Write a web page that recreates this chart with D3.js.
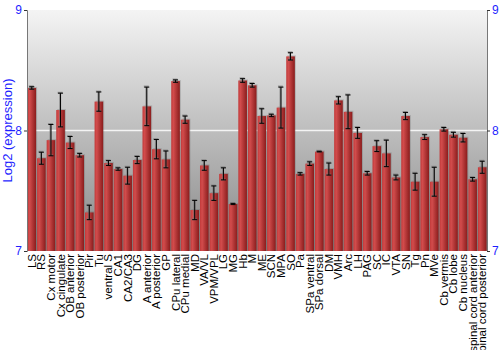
<!DOCTYPE html>
<html>
<head>
<meta charset="utf-8">
<script src="https://cdn.jsdelivr.net/npm/d3@7"></script>
<style>
  body { margin: 0; background: #fff; }
  svg { display: block; font-family: "Liberation Sans", Arial, sans-serif; }
</style>
</head>
<body>
<svg id="chart" width="500" height="350"></svg>
<script>
const regions = ["LS", "RS", "Cx motor", "Cx cingulate", "OB anterior", "OB posterior", "Pir", "Tu",
  "ventral S", "CA1", "CA2/CA3", "DG", "A anterior", "A posterior", "GP", "CPu lateral", "CPu medial",
  "MD", "VA/VL", "VPM/VPL", "LG", "MG", "Hb", "M", "ME", "SCN", "MPA", "SO", "Pa", "SPa ventral",
  "SPa dorsal", "DM", "VMH", "Arc", "LH", "PAG", "SC", "IC", "VTA", "SN", "Tg", "Pn", "MVe",
  "Cb vermis", "Cb lobe", "Cb nucleus", "spinal cord anterior", "spinal cord posterior"];

const expression = [8.353, 7.77, 7.92, 8.17, 7.90, 7.795, 7.32, 8.24,
  7.73, 7.68, 7.625, 7.755, 8.20, 7.845, 7.76, 8.41, 8.09,
  7.34, 7.71, 7.48, 7.64, 7.39, 8.415, 8.375, 8.12, 8.125, 8.19, 8.615, 7.64, 7.725,
  7.825, 7.68, 8.25, 8.155, 7.98, 7.645, 7.87, 7.81, 7.61, 8.12, 7.575, 7.945, 7.575,
  8.01, 7.965, 7.94, 7.595, 7.695];

const stdErr = [0.01, 0.05, 0.13, 0.14, 0.05, 0.015, 0.06, 0.08,
  0.02, 0.01, 0.07, 0.03, 0.16, 0.08, 0.07, 0.01, 0.03,
  0.08, 0.04, 0.06, 0.05, 0.005, 0.015, 0.015, 0.06, 0.01, 0.17, 0.03, 0.01, 0.015,
  0.003, 0.05, 0.03, 0.14, 0.045, 0.015, 0.045, 0.11, 0.02, 0.03, 0.07, 0.02, 0.12,
  0.015, 0.02, 0.035, 0.015, 0.05];

const yTicks = [7, 8, 9];

const data = regions.map((r, i) => ({ region: r, value: expression[i], err: stdErr[i] }));

const margin = { top: 10, right: 13, bottom: 99, left: 27 };
const width = 500, height = 350;
const innerWidth = width - margin.left - margin.right;
const innerHeight = height - margin.top - margin.bottom;

const svg = d3.select("#chart");
const defs = svg.append("defs");

const bg = defs.append("linearGradient").attr("id", "bg").attr("x1", 0).attr("y1", 0).attr("x2", 0).attr("y2", 1);
bg.append("stop").attr("offset", "0%").attr("stop-color", "#f4f4f4");
bg.append("stop").attr("offset", "100%").attr("stop-color", "#878787");

const barGrad = defs.append("linearGradient").attr("id", "bar").attr("x1", 0).attr("y1", 0).attr("x2", 1).attr("y2", 0);
barGrad.append("stop").attr("offset", "0%").attr("stop-color", "#c23a3a");
barGrad.append("stop").attr("offset", "25%").attr("stop-color", "#d24c4c");
barGrad.append("stop").attr("offset", "100%").attr("stop-color", "#8a1c1c");

const chart = svg.append("g").attr("transform", `translate(${margin.left},${margin.top})`);

const x = d3.scaleBand().domain(regions).range([0, innerWidth]).paddingInner(0.1).paddingOuter(0.05);
const y = d3.scaleLinear().domain([7, 9]).range([innerHeight, 0]);

chart.append("rect")
  .attr("width", innerWidth)
  .attr("height", innerHeight)
  .attr("fill", "url(#bg)");

// grid line at 8
chart.append("line")
  .attr("x1", 0).attr("x2", innerWidth)
  .attr("y1", y(8)).attr("y2", y(8))
  .attr("stroke", "#f4f4f4").attr("stroke-width", 1.5);

// bar shadows
chart.selectAll(".shadow").data(data).enter().append("rect")
  .attr("x", d => x(d.region) + 1)
  .attr("y", d => y(d.value) - 1)
  .attr("width", x.bandwidth())
  .attr("height", d => innerHeight - y(d.value) + 1)
  .attr("fill", "#555").attr("opacity", 0.25);

chart.selectAll(".bar").data(data).enter().append("rect")
  .attr("class", "bar")
  .attr("x", d => x(d.region))
  .attr("y", d => y(d.value))
  .attr("width", x.bandwidth())
  .attr("height", d => innerHeight - y(d.value))
  .attr("fill", "url(#bar)");

// error bars: grey shadow then black
const cap = 2.5;
const err = chart.selectAll(".err").data(data).enter().append("g")
  .attr("transform", d => `translate(${x(d.region) + x.bandwidth() / 2},0)`);
err.append("path")
  .attr("d", d => {
    const a = y(d.value + d.err), b = y(d.value - d.err);
    return `M${-cap - 0.5},${a - 0.5}H${cap - 0.5}M-0.5,${a - 0.5}V${b - 0.5}M${-cap - 0.5},${b - 0.5}H${cap - 0.5}`;
  })
  .attr("stroke", "#777").attr("stroke-width", 2).attr("opacity", 0.6).attr("fill", "none");
err.append("path")
  .attr("d", d => {
    const a = y(d.value + d.err), b = y(d.value - d.err);
    return `M${-cap},${a}H${cap}M0,${a}V${b}M${-cap},${b}H${cap}`;
  })
  .attr("stroke", "#000").attr("stroke-width", 1).attr("fill", "none");

// axes
const left = chart.append("g").call(d3.axisLeft(y).tickValues(yTicks).tickFormat(d3.format("d")).tickSize(3).tickPadding(2));
const right = chart.append("g").attr("transform", `translate(${innerWidth},0)`)
  .call(d3.axisRight(y).tickValues(yTicks).tickFormat(d3.format("d")).tickSize(3).tickPadding(2));
[left, right].forEach(g => {
  g.select(".domain").attr("stroke", "#777");
  g.selectAll(".tick line").attr("stroke", "#333");
  g.selectAll(".tick text").attr("fill", "#1f1fff").attr("font-size", 12)
    .attr("font-family", "'Liberation Sans', Arial, sans-serif");
});

// x labels
chart.append("g").selectAll("text").data(regions).enter().append("text")
  .attr("transform", d => `translate(${x(d) + x.bandwidth() / 2 + 4},${innerHeight + 3}) rotate(-90)`)
  .attr("text-anchor", "end")
  .attr("font-size", 11.5)
  .attr("fill", "#000")
  .text(d => d);

svg.append("text")
  .attr("transform", `translate(12,${margin.top + innerHeight / 2}) rotate(-90)`)
  .attr("text-anchor", "middle")
  .attr("font-size", 13)
  .attr("fill", "#1f1fff")
  .text("Log2 (expression)");
</script>
</body>
</html>
